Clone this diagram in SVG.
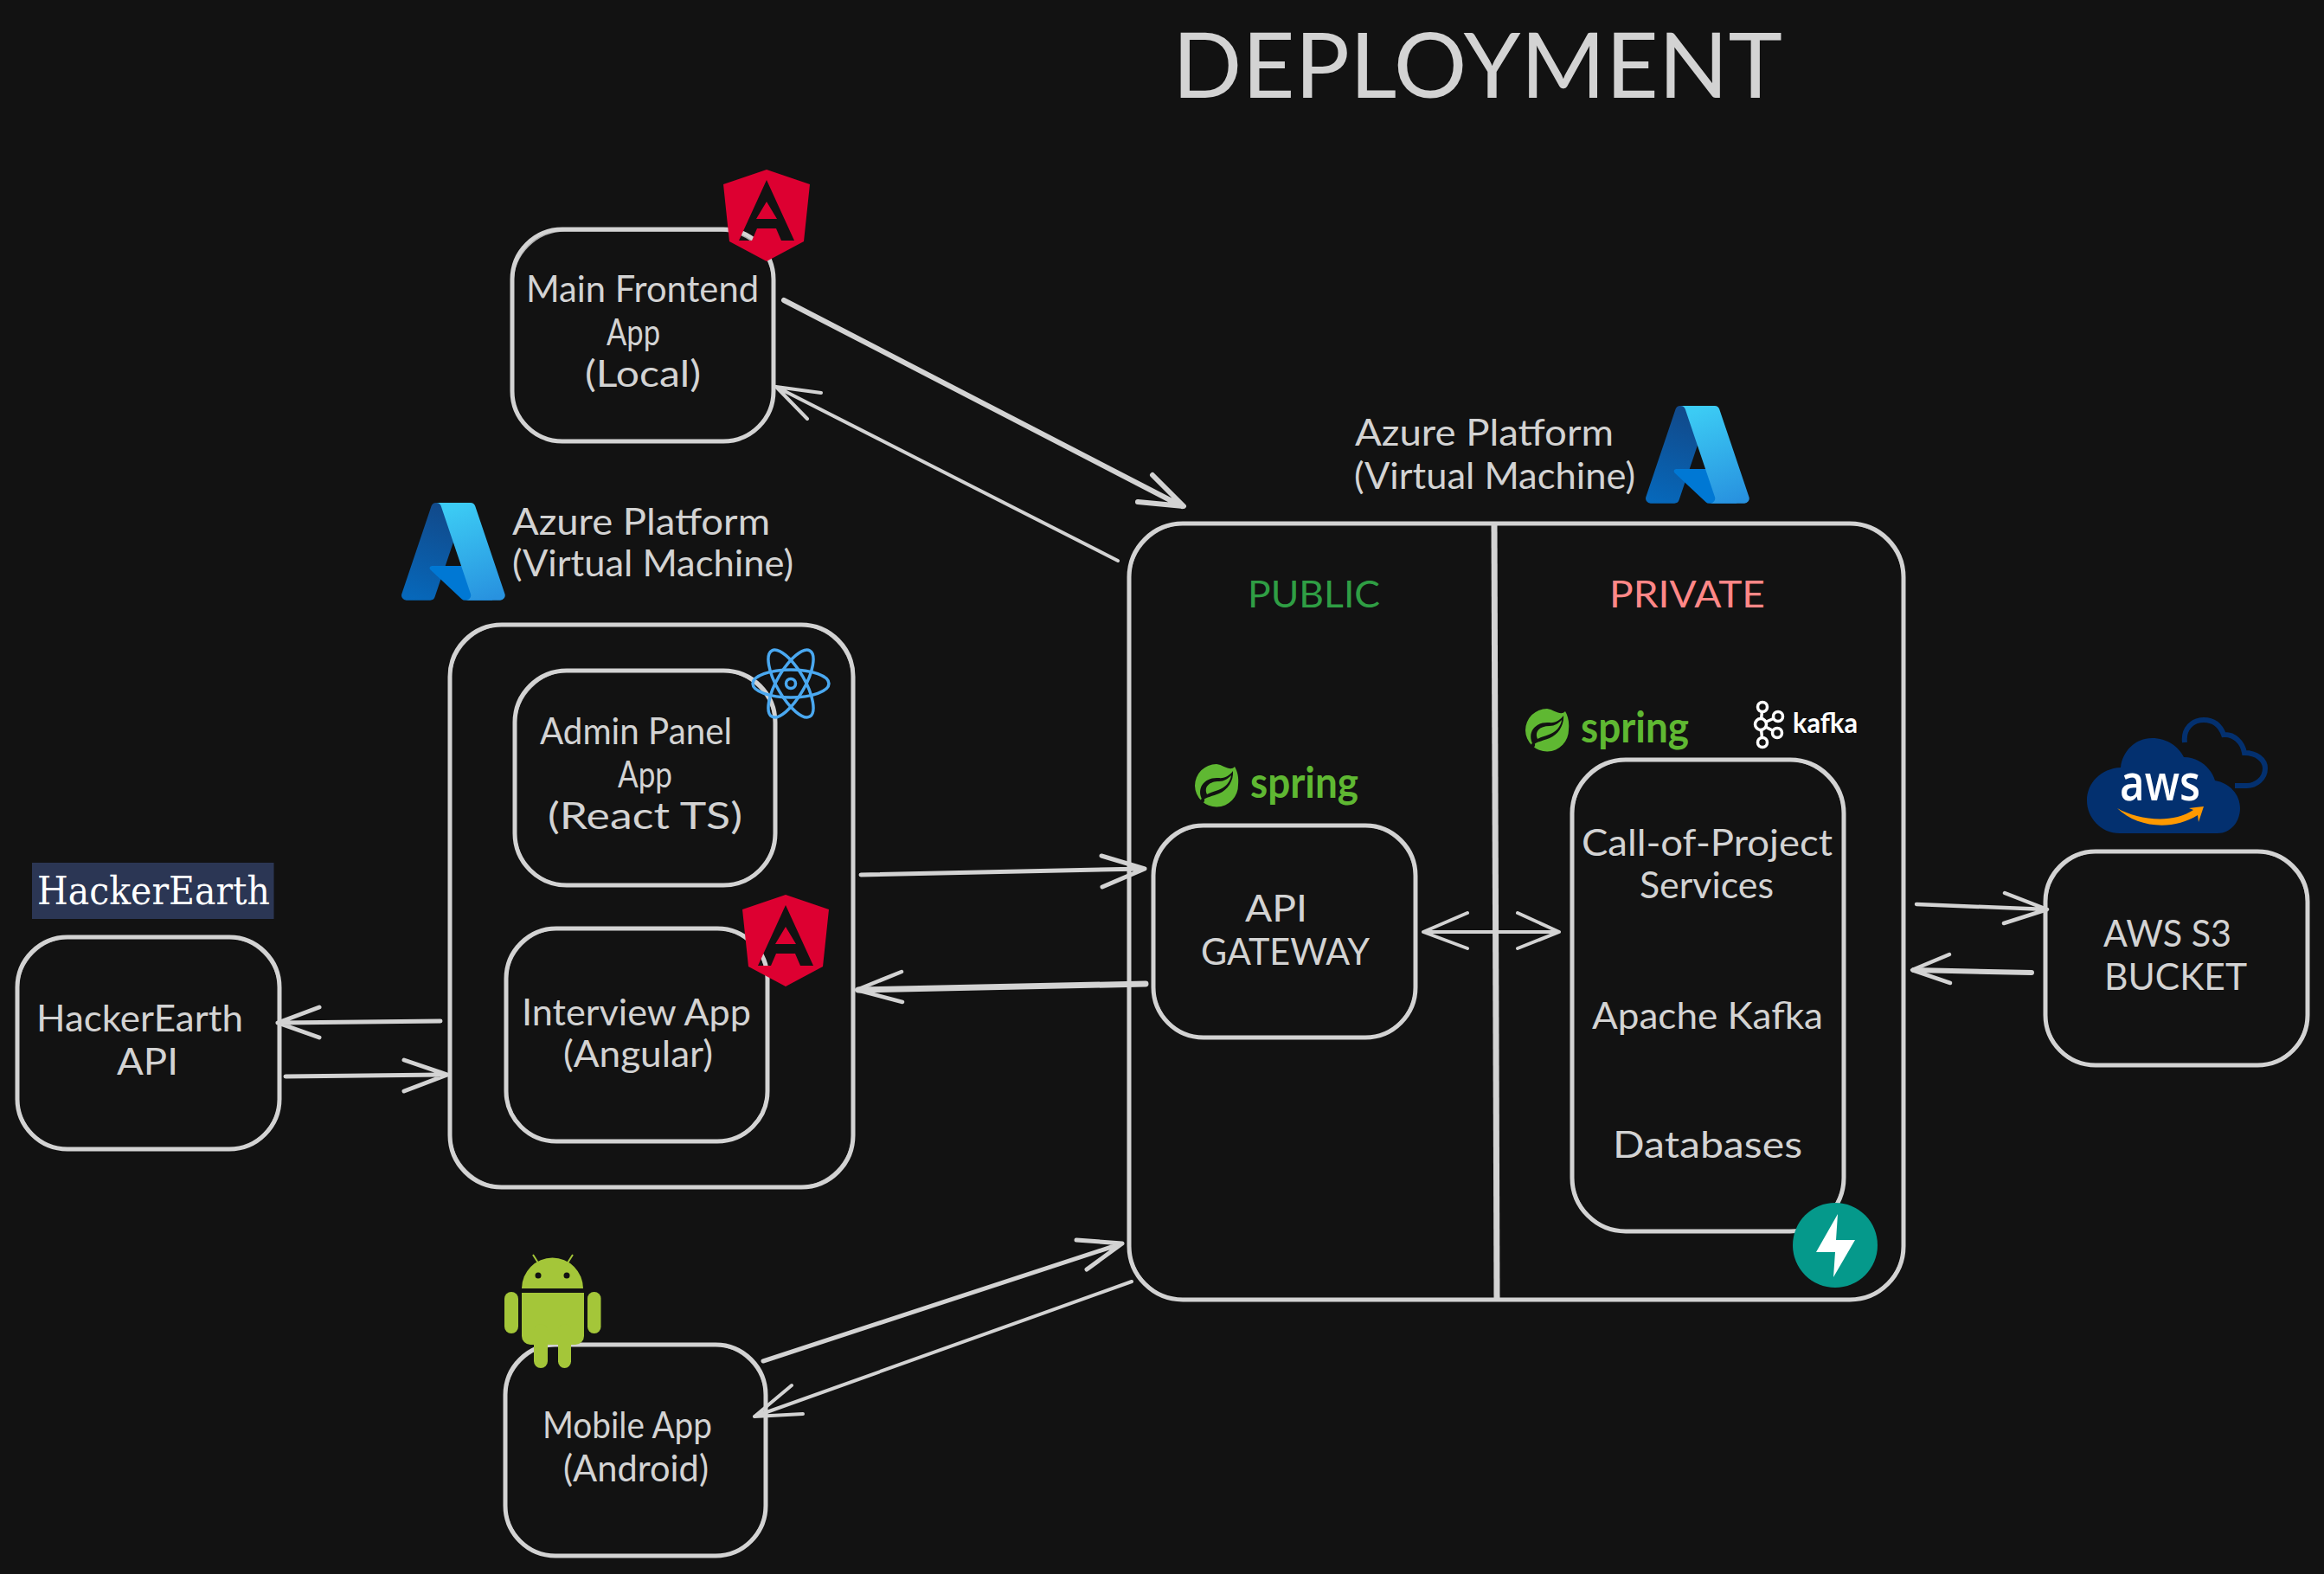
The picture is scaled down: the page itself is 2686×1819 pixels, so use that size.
<svg xmlns="http://www.w3.org/2000/svg" width="2686" height="1819" viewBox="0 0 2686 1819">
<style>
.b{fill:none;stroke:#d3d3d3;stroke-width:5;stroke-linejoin:round}
.b2{fill:none;stroke:#d3d3d3;stroke-width:1.5;opacity:.8}
.d{fill:none;stroke:#d3d3d3;stroke-width:7}
.c{fill:none;stroke:#d3d3d3;stroke-linecap:round;stroke-linejoin:round}
.t{font-family:"Lato","Open Sans",sans-serif;font-size:42px;fill:#d3d3d3}
.title{font-family:"Lato","Open Sans",sans-serif;font-size:104px;font-weight:400;fill:#d3d3d3}
.sp{font-family:"Lato","Open Sans",sans-serif;font-size:50px;font-weight:700;fill:#5fb832}
.ang{fill:#dd0031;fill-rule:evenodd}
</style>
<defs>
<linearGradient id="az1" gradientUnits="userSpaceOnUse" x1="42.8" y1="12.7" x2="15.8" y2="92.5"><stop offset="0" stop-color="#114a8b"/><stop offset="1" stop-color="#0669bc"/></linearGradient>
<linearGradient id="az3" gradientUnits="userSpaceOnUse" x1="48" y1="10.3" x2="77.6" y2="89.2"><stop offset="0" stop-color="#3ccbf4"/><stop offset="1" stop-color="#2892df"/></linearGradient>
<g id="azure">
<path fill="url(#az1)" d="M33.338 6.544h26.038l-27.03 80.087a4.152 4.152 0 0 1-3.933 2.824H8.149a4.145 4.145 0 0 1-3.928-5.47L29.404 9.368a4.152 4.152 0 0 1 3.934-2.825z"/>
<path fill="#0078d4" d="M71.175 60.261h-41.29a1.911 1.911 0 0 0-1.305 3.309l26.532 24.764a4.171 4.171 0 0 0 2.846 1.121h23.38z"/>
<path fill="url(#az3)" d="M66.595 9.364a4.145 4.145 0 0 0-3.928-2.82H33.648a4.146 4.146 0 0 1 3.928 2.82l25.184 74.62a4.146 4.146 0 0 1-3.928 5.472h29.02a4.146 4.146 0 0 0 3.927-5.472z"/>
</g>
<path id="angular" class="ang" d="M0 0L50 17L43 83L0 106L-43 83L-50 17Z M0 12L-32 82L-17 82L-11 68L11 68L17 82L32 82Z M0 37L12 57L-12 57Z"/>
<g id="leaf">
<path fill="#5fb832" d="M-25 0A25 25 0 1 0 25 -1C26 -10 24 -17 21 -22C16 -16 8 -24 0 -25A25 25 0 0 0 -25 0Z"/>
<path fill="#121212" d="M-16 17C-24 3 -14 -10 2 -9C10 -8 15 -12 19 -17C20 -6 13 5 3 9C-4 12 -12 13 -16 17Z"/>
<path fill="#5fb832" d="M-11 10C-15 1 -8 -5 3 -5C9 -5 13 -8 17 -12C16 -4 10 2 2 5C-3 7 -8 8 -11 10Z"/>
<circle cx="-16" cy="17" r="2.2" fill="#121212"/>
</g>
</defs>
<rect width="2686" height="1819" fill="#121212"/>

<text id="title" class="title" x="1355" y="113" textLength="705" lengthAdjust="spacingAndGlyphs">DEPLOYMENT</text>

<g id="connectors">
<path class="c" stroke-width="6" d="M906 347L1366 585M1332 549L1368 585L1315 580"/>
<path class="c" stroke-width="4" d="M1292 648L897 447M949 454L897 447L933 484"/>
<path class="c" stroke-width="5" d="M995 1011L1322 1004M1273 989L1323 1004L1274 1025"/>
<path class="c" stroke-width="7" d="M1324 1137L992 1144"/>
<path class="c" stroke-width="4.5" d="M1042 1123L990 1144L1043 1158"/>
<path class="c" stroke-width="5" d="M509 1180L325 1182M369 1164L321 1182L369 1199"/>
<path class="c" stroke-width="5" d="M330 1244L515 1242M467 1225L517 1242L467 1261"/>
<path class="c" stroke-width="5" d="M882 1573L1297 1437M1244 1433L1297 1437L1256 1467"/>
<path class="c" stroke-width="4" d="M1308 1481L872 1637M915 1601L872 1637L928 1634"/>
<path class="c" stroke-width="4" d="M1645 1077L1802 1077M1696 1055L1645 1077L1696 1096M1754 1055L1802 1077L1754 1096"/>
<path class="c" stroke-width="4.5" d="M2215 1045L2366 1051M2317 1032L2366 1051L2316 1067"/>
<path class="c" stroke-width="6" d="M2348 1124L2212 1121"/>
<path class="c" stroke-width="4.5" d="M2253 1103L2210 1121L2254 1136"/>
</g>

<g id="node-main-frontend">
<rect class="b" x="592" y="265" width="302" height="245" rx="58"/>
<rect class="b2" x="593" y="267" width="300" height="244" rx="60"/>
<text class="t" x="608" y="349" textLength="269" lengthAdjust="spacingAndGlyphs">Main Frontend</text>
<text class="t" x="701" y="399" textLength="62" lengthAdjust="spacingAndGlyphs">App</text>
<text class="t" x="676" y="447" textLength="134" lengthAdjust="spacingAndGlyphs">(Local)</text>
<use href="#angular" x="886" y="196"/>
</g>

<g id="node-azure-left">
<use href="#azure" transform="translate(458.6 572) scale(1.36)"/>
<text class="t" x="592" y="618" textLength="298" lengthAdjust="spacingAndGlyphs">Azure Platform</text>
<text class="t" x="592" y="666" textLength="325" lengthAdjust="spacingAndGlyphs">(Virtual Machine)</text>
<rect class="b" x="520" y="722" width="466" height="650" rx="60"/>
<rect class="b2" x="521" y="723" width="464" height="648" rx="62"/>
</g>

<g id="node-admin-panel">
<rect class="b" x="595" y="775" width="301" height="248" rx="60"/>
<rect class="b2" x="596" y="776" width="299" height="247" rx="62"/>
<text class="t" x="624" y="860" textLength="222" lengthAdjust="spacingAndGlyphs">Admin Panel</text>
<text class="t" x="714" y="910" textLength="63" lengthAdjust="spacingAndGlyphs">App</text>
<text class="t" x="633" y="958" textLength="225" lengthAdjust="spacingAndGlyphs">(React TS)</text>
<g fill="none" stroke="#4aa8f0" stroke-width="3.5">
<ellipse cx="914" cy="790" rx="44" ry="16"/>
<ellipse cx="914" cy="790" rx="44" ry="16" transform="rotate(60 914 790)"/>
<ellipse cx="914" cy="790" rx="44" ry="16" transform="rotate(120 914 790)"/>
<circle cx="914" cy="790" r="5.5"/>
</g>
</g>

<g id="node-interview">
<rect class="b" x="585" y="1073" width="302" height="246" rx="58"/>
<rect class="b2" x="586" y="1074" width="300" height="245" rx="60"/>
<text class="t" x="603" y="1185" textLength="265" lengthAdjust="spacingAndGlyphs">Interview App</text>
<text class="t" x="651" y="1233" textLength="173" lengthAdjust="spacingAndGlyphs">(Angular)</text>
<use href="#angular" x="908" y="1034"/>
</g>

<g id="node-hackerearth">
<rect x="37" y="997" width="279.5" height="65" fill="#2b3654"/>
<text x="43" y="1045" font-family="'DejaVu Serif','Liberation Serif',serif" font-size="44" fill="#ffffff" textLength="269" lengthAdjust="spacingAndGlyphs">HackerEarth</text>
<rect class="b" x="20" y="1083" width="303" height="245" rx="58"/>
<rect class="b2" x="21" y="1084" width="301" height="244" rx="60"/>
<text class="t" x="42" y="1192" textLength="239" lengthAdjust="spacingAndGlyphs">HackerEarth</text>
<text class="t" x="135" y="1242" textLength="71" lengthAdjust="spacingAndGlyphs">API</text>
</g>

<g id="node-mobile">
<rect class="b" x="584" y="1554" width="301" height="244" rx="58"/>
<rect class="b2" x="585" y="1555" width="299" height="243" rx="60"/>
<text class="t" x="627" y="1662" textLength="196" lengthAdjust="spacingAndGlyphs">Mobile App</text>
<text class="t" x="651" y="1712" textLength="168" lengthAdjust="spacingAndGlyphs">(Android)</text>
<g fill="#a4c639">
<path d="M603 1489A35.5 35.5 0 0 1 674 1489Z"/>
<path d="M603 1494H675V1544A10 10 0 0 1 665 1554H613A10 10 0 0 1 603 1544Z"/>
<rect x="583" y="1493" width="16" height="48" rx="8"/>
<rect x="679" y="1493" width="15.5" height="48" rx="7.5"/>
<rect x="617" y="1530" width="16" height="51" rx="8"/>
<rect x="645" y="1530" width="15" height="51" rx="7.5"/>
<path d="M616 1450L623 1461M662 1450L655 1461" stroke="#a4c639" stroke-width="2"/>
</g>
<circle cx="622" cy="1474" r="3.5" fill="#121212"/>
<circle cx="655" cy="1474" r="3.5" fill="#121212"/>
</g>

<g id="node-azure-right">
<text class="t" x="1566" y="515" textLength="299" lengthAdjust="spacingAndGlyphs">Azure Platform</text>
<text class="t" x="1565" y="565" textLength="325" lengthAdjust="spacingAndGlyphs">(Virtual Machine)</text>
<use href="#azure" transform="translate(1896.6 460) scale(1.36)"/>
<rect class="b" x="1305" y="605" width="895" height="897" rx="62"/>
<rect class="b2" x="1306" y="606" width="893" height="896" rx="64"/>
<path class="d" d="M1727 605L1730 1502"/>
<text class="t" x="1442" y="702" style="fill:#2f9e44" textLength="153" lengthAdjust="spacingAndGlyphs">PUBLIC</text>
<text class="t" x="1860" y="702" style="fill:#ff8787" textLength="180" lengthAdjust="spacingAndGlyphs">PRIVATE</text>
</g>

<g id="node-gateway">
<use href="#leaf" x="1406" y="908"/>
<text class="sp" x="1445" y="922" textLength="125" lengthAdjust="spacingAndGlyphs">spring</text>
<rect class="b" x="1333" y="954" width="303" height="245" rx="58"/>
<rect class="b2" x="1334" y="955" width="301" height="244" rx="60"/>
<text class="t" x="1439" y="1065" textLength="72" lengthAdjust="spacingAndGlyphs">API</text>
<text class="t" x="1388" y="1115" textLength="195" lengthAdjust="spacingAndGlyphs">GATEWAY</text>
</g>

<g id="node-services">
<use href="#leaf" x="1788" y="844"/>
<text class="sp" x="1827" y="858" textLength="125" lengthAdjust="spacingAndGlyphs">spring</text>
<g fill="none" stroke="#ffffff" stroke-width="3.5">
<path d="M2037 817L2035 837L2037 858M2055 828L2035 837L2054 847"/>
<g fill="#121212"><circle cx="2037" cy="817" r="5.5"/><circle cx="2055" cy="828" r="5.5"/><circle cx="2035" cy="837" r="6.5"/><circle cx="2054" cy="847" r="5.5"/><circle cx="2037" cy="858" r="5.5"/></g>
</g>
<text x="2072" y="847" font-family="Lato,'Open Sans',sans-serif" font-size="33" font-weight="700" fill="#ffffff" textLength="75" lengthAdjust="spacingAndGlyphs">kafka</text>
<rect class="b" x="1817" y="878" width="314" height="545" rx="62"/>
<rect class="b2" x="1818" y="879" width="312" height="544" rx="64"/>
<text class="t" x="1828" y="989" textLength="290" lengthAdjust="spacingAndGlyphs">Call-of-Project</text>
<text class="t" x="1895" y="1038" textLength="155" lengthAdjust="spacingAndGlyphs">Services</text>
<text class="t" x="1840" y="1189" textLength="267" lengthAdjust="spacingAndGlyphs">Apache Kafka</text>
<text class="t" x="1864" y="1338" textLength="219" lengthAdjust="spacingAndGlyphs">Databases</text>
<circle cx="2121" cy="1439" r="49" fill="#05998b"/>
<path fill="#ffffff" d="M2124 1403L2099 1447H2121L2119 1476L2144 1433H2122Z"/>
</g>

<g id="node-s3">
<path fill="none" stroke="#03306f" stroke-width="6" d="M2525 858C2523 842 2534 832 2547 832C2558 832 2566 838 2570 849C2582 848 2592 858 2594 870C2608 870 2618 878 2618 888C2618 900 2607 908 2597 908L2583 908"/>
<path fill="#03306f" d="M2450 963C2428 963 2412 945 2412 925C2412 905 2428 888 2451 887C2453 868 2468 853 2487 853C2505 853 2518 863 2524 875C2542 875 2556 888 2560 902C2577 905 2589 918 2589 934C2589 950 2578 963 2563 963Z"/>
<text x="2450" y="925" font-family="'Open Sans',Lato,sans-serif" font-size="58" font-weight="600" fill="#ffffff" textLength="93" lengthAdjust="spacingAndGlyphs">aws</text>
<path fill="#ff9900" d="M2447 934C2470 947 2510 953 2535 936L2530 934L2547 932L2541 950L2540 942C2512 960 2470 957 2447 934Z"/>
<rect class="b" x="2364" y="984" width="303" height="247" rx="58"/>
<rect class="b2" x="2365" y="985" width="301" height="246" rx="60"/>
<text class="t" x="2431" y="1094" textLength="148" lengthAdjust="spacingAndGlyphs">AWS S3</text>
<text class="t" x="2432" y="1144" textLength="165" lengthAdjust="spacingAndGlyphs">BUCKET</text>
</g>
</svg>
